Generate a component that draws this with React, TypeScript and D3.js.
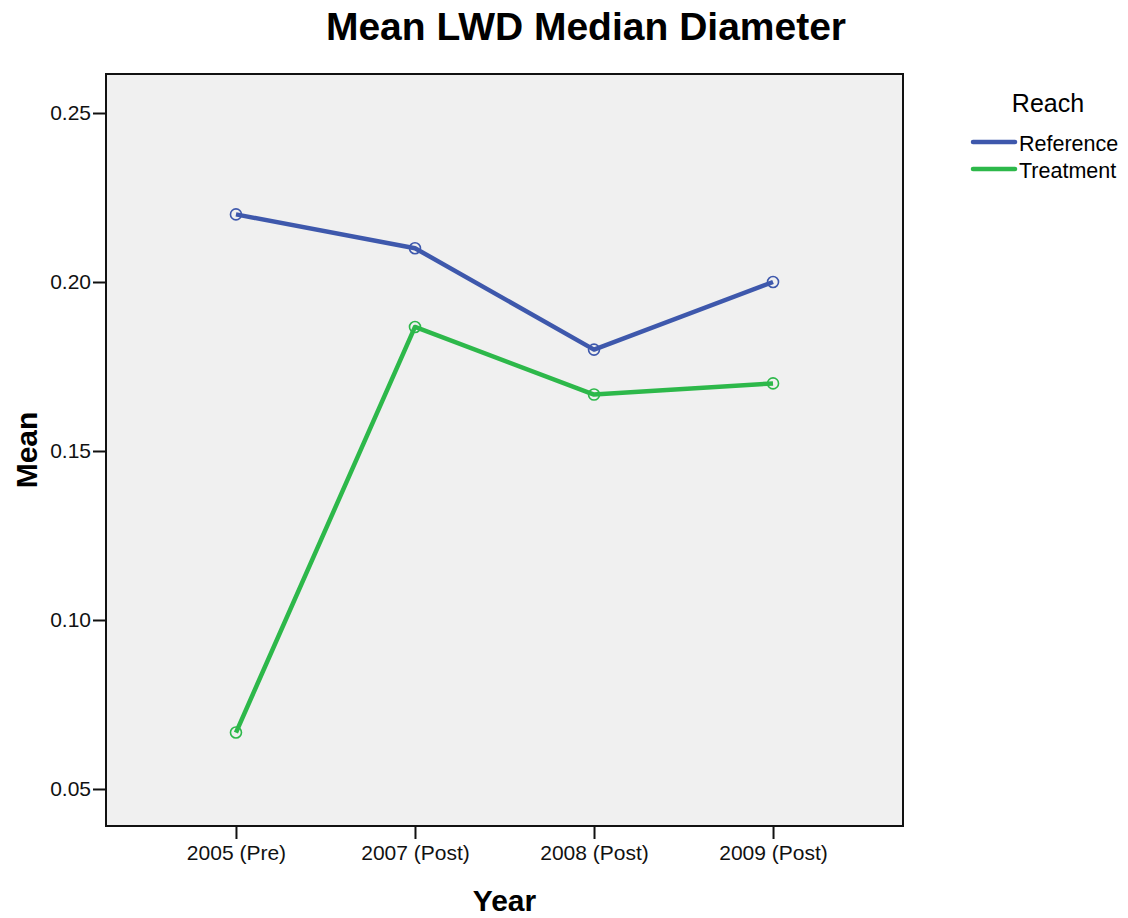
import * as d3 from "d3";
import React from "react";
import { useEffect, useRef } from "react";

const years = ["2005 (Pre)", "2007 (Post)", "2008 (Post)", "2009 (Post)"];
const referenceMeans = [0.22, 0.21, 0.18, 0.2];
const treatmentMeans = [0.0667, 0.1867, 0.1667, 0.17];
const yTicks = [0.05, 0.1, 0.15, 0.2, 0.25];

const seriesList = [
    { name: "Reference", values: referenceMeans, color: "#3e58ac" },
    { name: "Treatment", values: treatmentMeans, color: "#2db84a" },
];

const App = () => {
    const chartArea = useRef(null);
    const width = 1128, height = 918;
    const plot = { left: 106, right: 903, top: 74, bottom: 826 };
    const font = "'Liberation Sans', Arial, sans-serif";

    useEffect(() => {
        const svg = d3.select(chartArea.current);
        svg.selectAll("*").remove();

        const x = d3.scalePoint<string>()
            .domain(years)
            .range([plot.left, plot.right])
            .padding(0.726);

        const y = d3.scaleLinear()
            .domain([0.03905, 0.26154])
            .range([plot.bottom, plot.top]);

        // plot background
        svg.append("rect")
            .attr("x", plot.left)
            .attr("y", plot.top)
            .attr("width", plot.right - plot.left)
            .attr("height", plot.bottom - plot.top)
            .attr("fill", "#f0f0f0");

        // y axis
        const yAxis = svg.append("g")
            .attr("transform", "translate(" + plot.left + ",0)")
            .call(d3.axisLeft(y).tickValues(yTicks).tickFormat(d3.format(".2f")).tickSize(13).tickSizeOuter(0).tickPadding(2));
        yAxis.select(".domain").remove();
        yAxis.selectAll("line").attr("stroke", "#111").attr("stroke-width", 2);
        yAxis.selectAll("text").attr("font-family", font).attr("font-size", 21).attr("fill", "#111");

        // x axis
        const xAxis = svg.append("g")
            .attr("transform", "translate(0," + plot.bottom + ")")
            .call(d3.axisBottom(x).tickSize(13).tickSizeOuter(0).tickPadding(6));
        xAxis.select(".domain").remove();
        xAxis.selectAll("line").attr("stroke", "#111").attr("stroke-width", 2);
        xAxis.selectAll("text").attr("font-family", font).attr("font-size", 21).attr("fill", "#111");

        // frame
        svg.append("rect")
            .attr("x", plot.left)
            .attr("y", plot.top)
            .attr("width", plot.right - plot.left)
            .attr("height", plot.bottom - plot.top)
            .attr("fill", "none")
            .attr("stroke", "#111")
            .attr("stroke-width", 2);

        const line = d3.line<number>()
            .x((d, i) => x(years[i]) as number)
            .y(d => y(d));

        seriesList.forEach(s => {
            svg.append("path")
                .datum(s.values)
                .attr("d", line)
                .attr("fill", "none")
                .attr("stroke", s.color)
                .attr("stroke-width", 4.5)
                .attr("stroke-linejoin", "round");

            svg.selectAll(null)
                .data(s.values)
                .enter()
                .append("circle")
                .attr("cx", (d, i) => x(years[i]) as number)
                .attr("cy", d => y(d))
                .attr("r", 5.5)
                .attr("fill", "none")
                .attr("stroke", s.color)
                .attr("stroke-width", 1.6);
        });

        // titles
        svg.append("text")
            .attr("x", 586)
            .attr("y", 40)
            .attr("text-anchor", "middle")
            .attr("font-family", font)
            .attr("font-weight", "bold")
            .attr("font-size", 39)
            .text("Mean LWD Median Diameter");

        svg.append("text")
            .attr("x", (plot.left + plot.right) / 2)
            .attr("y", 911)
            .attr("text-anchor", "middle")
            .attr("font-family", font)
            .attr("font-weight", "bold")
            .attr("font-size", 30)
            .text("Year");

        svg.append("text")
            .attr("transform", "translate(37," + (plot.top + plot.bottom) / 2 + ") rotate(-90)")
            .attr("text-anchor", "middle")
            .attr("font-family", font)
            .attr("font-weight", "bold")
            .attr("font-size", 30)
            .text("Mean");

        // legend
        svg.append("text")
            .attr("x", 1048)
            .attr("y", 112)
            .attr("text-anchor", "middle")
            .attr("font-family", font)
            .attr("font-size", 25)
            .text("Reach");

        seriesList.forEach((s, i) => {
            const ly = 142 + i * 27;
            svg.append("line")
                .attr("x1", 973)
                .attr("x2", 1015)
                .attr("y1", ly)
                .attr("y2", ly)
                .attr("stroke", s.color)
                .attr("stroke-width", 4.5)
                .attr("stroke-linecap", "round");
            svg.append("text")
                .attr("x", 1019)
                .attr("y", ly + 9)
                .attr("font-family", font)
                .attr("font-size", 21.5)
                .text(s.name);
        });
    }, []);

    return (
        <svg
            ref={chartArea}
            width={width}
            height={height}
            style={{ position: "absolute", left: 0, top: 0, background: "#fff" }}
        />
    );
};

export default App;
